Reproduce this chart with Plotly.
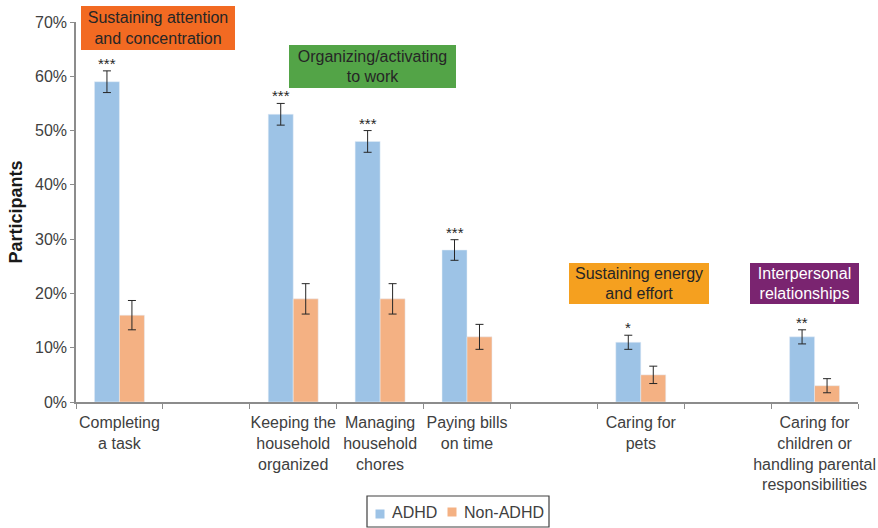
import plotly.graph_objects as go

# Task categories (blank slots separate the domain groups)
categories = [
    "Completing<br>a task",
    "",
    "Keeping the<br>household<br>organized",
    "Managing<br>household<br>chores",
    "Paying bills<br>on time",
    "",
    "Caring for<br>pets",
    "",
    "Caring for<br>children or<br>handling parental<br>responsibilities",
]

# Percent of participants reporting difficulty
adhd = [59, None, 53, 48, 28, None, 11, None, 12]
non_adhd = [16, None, 19, 19, 12, None, 5, None, 3]

# Error bar half-widths (percentage points)
adhd_err = [2.0, None, 2.0, 2.0, 1.9, None, 1.3, None, 1.3]
non_adhd_err = [2.7, None, 2.8, 2.8, 2.3, None, 1.6, None, 1.3]

# Significance markers shown above the ADHD bars
significance = ["***", None, "***", "***", "***", None, "*", None, "**"]

# Series names
series_names = ["ADHD", "Non-ADHD"]

# Domain headings: text, fill colour, text colour, box centre/size in pixels
domains = [
    ("Sustaining attention<br>and concentration", "#F26A22", "#262626", 158, 28, 154, 44),
    ("Organizing/activating<br>to work", "#53A447", "#262626", 372.5, 66.5, 167, 43),
    ("Sustaining energy<br>and effort", "#F5A01F", "#262626", 639, 283.5, 140, 41),
    ("Interpersonal<br>relationships", "#7A2470", "#FFFFFF", 804.5, 283.5, 109, 41),
]

ADHD_COLOR = "#9DC3E6"
NON_ADHD_COLOR = "#F4B183"
FONT = "Liberation Sans, Arial, sans-serif"
TEXT = "#404040"

W, H = 878, 528
ML, MR, MT, MB = 76, 20, 22, 126
PW = W - ML - MR
PH = H - MT - MB
BARGAP = 0.425

xs = list(range(len(categories)))


def px_to_paper(px, py):
    return (px - ML) / PW, (H - MB - py) / PH


fig = go.Figure()
fig.add_trace(go.Bar(
    x=xs, y=adhd, name=series_names[0], marker_color=ADHD_COLOR,
    error_y=dict(type="data", array=adhd_err, color="#262626", thickness=1, width=4),
))
fig.add_trace(go.Bar(
    x=xs, y=non_adhd, name=series_names[1], marker_color=NON_ADHD_COLOR,
    error_y=dict(type="data", array=non_adhd_err, color="#262626", thickness=1, width=4),
))

annotations = []
shapes = []

offset = (1 - BARGAP) / 4
for i, s in enumerate(significance):
    if s is None:
        continue
    annotations.append(dict(
        x=i - offset, y=adhd[i] + adhd_err[i], xref="x", yref="y",
        text=s, showarrow=False, yanchor="bottom", yshift=-3,
        font=dict(family=FONT, size=15, color="#262626"),
    ))

for text, fill, fc, cx, cy, bw, bh in domains:
    px, py = px_to_paper(cx, cy)
    annotations.append(dict(
        x=px, y=py, xref="paper", yref="paper", xanchor="center", yanchor="middle",
        text=text, showarrow=False, bgcolor=fill, width=bw, height=bh,
        borderpad=0, borderwidth=0,
        font=dict(family=FONT, size=16, color=fc),
    ))

# Legend: frame, square swatches and labels below the axis
lx0, ly0 = px_to_paper(367, 496)
lx1, ly1 = px_to_paper(549, 527)
shapes.append(dict(type="rect", xref="paper", yref="paper", x0=lx0, x1=lx1, y0=ly1, y1=ly0,
                   line=dict(color="#404040", width=1.2), fillcolor="rgba(0,0,0,0)"))
for name, color, (sx, sy), tx in ((series_names[0], ADHD_COLOR, (380, 514), 390),
                                  (series_names[1], NON_ADHD_COLOR, (452, 512), 462)):
    x0, y0 = px_to_paper(sx - 4.5, sy + 4.5)
    x1, y1 = px_to_paper(sx + 4.5, sy - 4.5)
    shapes.append(dict(type="rect", xref="paper", yref="paper", x0=x0, x1=x1, y0=y0, y1=y1,
                       line=dict(width=0), fillcolor=color))
    ax, ay = px_to_paper(tx, 512)
    annotations.append(dict(x=ax, y=ay, xref="paper", yref="paper", xanchor="left",
                            yanchor="middle", text=name, showarrow=False,
                            font=dict(family=FONT, size=16, color=TEXT)))

fig.update_layout(
    width=W, height=H,
    margin=dict(l=ML, r=MR, t=MT, b=MB, autoexpand=False),
    paper_bgcolor="white", plot_bgcolor="white",
    barmode="group", bargap=BARGAP, bargroupgap=0,
    font=dict(family=FONT, size=16, color=TEXT),
    showlegend=False,
    annotations=annotations,
    shapes=shapes,
    xaxis=dict(
        range=[-0.5, len(categories) - 0.5],
        tickmode="array", tickvals=xs, ticktext=categories,
        ticks="", showgrid=False, zeroline=False,
        showline=True, linecolor="#8C8C8C", linewidth=1.5,
        tickfont=dict(size=16, color=TEXT), ticklabelstandoff=5,
        minor=dict(tickmode="array", tickvals=[i - 0.5 for i in range(len(categories) + 1)],
                   ticks="outside", ticklen=5, tickcolor="#8C8C8C", tickwidth=1),
    ),
    yaxis=dict(
        range=[0, 70], dtick=10, ticksuffix="%",
        ticks="outside", ticklen=4, tickcolor="#8C8C8C",
        showgrid=False, zeroline=False,
        showline=True, linecolor="#8C8C8C", linewidth=1.5,
        tickfont=dict(size=16, color=TEXT),
        title=dict(text="<b>Participants</b>", font=dict(size=18, color="#1A1A1A"), standoff=8),
    ),
)

fig.write_html("out.html")
